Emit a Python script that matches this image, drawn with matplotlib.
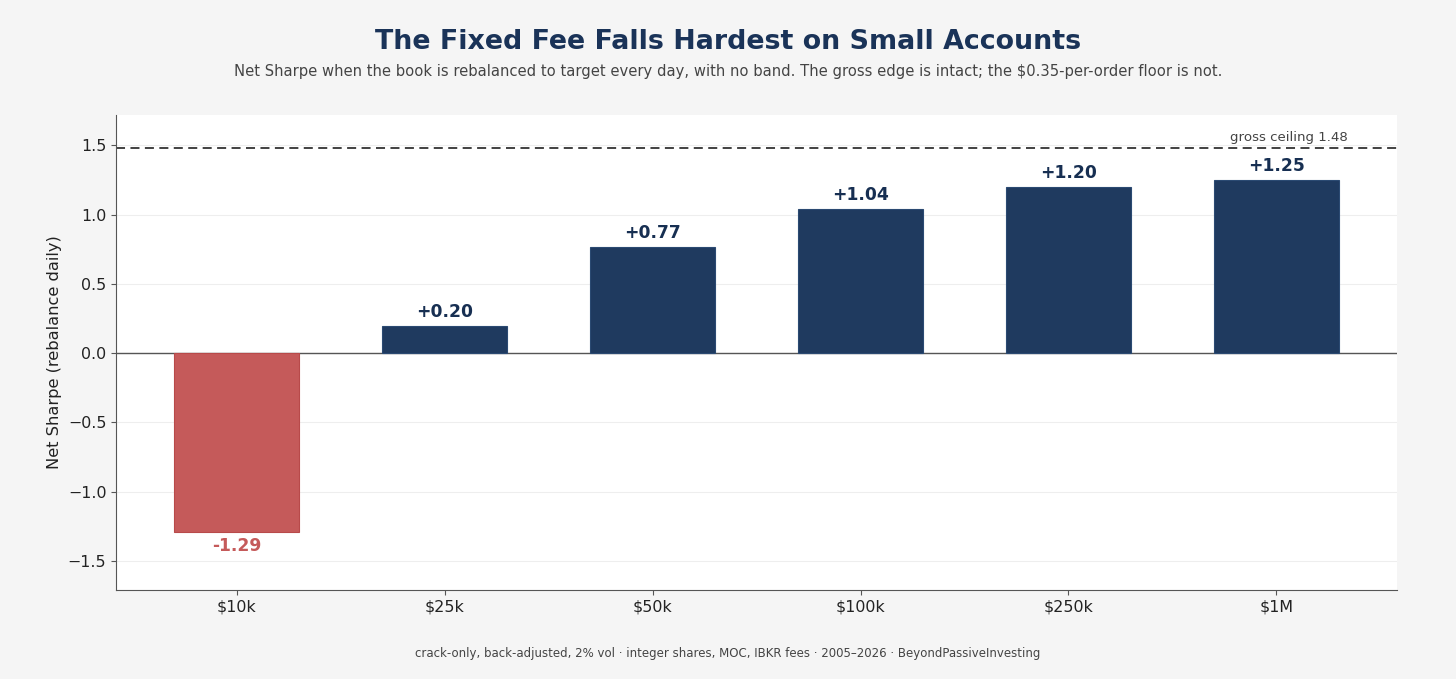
import matplotlib
matplotlib.use("Agg")
import matplotlib.pyplot as plt

plt.rcParams["font.family"] = "DejaVu Sans"
plt.rcParams["font.sans-serif"] = ["DejaVu Sans"]
FAM = "DejaVu Sans"

categories = ["$10k", "$25k", "$50k", "$100k", "$250k", "$1M"]
net_sharpe = [-1.29, 0.20, 0.77, 1.04, 1.20, 1.25]
labels = ["-1.29", "+0.20", "+0.77", "+1.04", "+1.20", "+1.25"]
gross_ceiling = 1.48
yticks = [-1.5, -1.0, -0.5, 0.0, 0.5, 1.0, 1.5]

NAVY = "#1f3a5f"
RED = "#c55a5a"
BG = "#f5f5f5"

fig = plt.figure(figsize=(14.56, 6.79), dpi=100, facecolor=BG)
ax = fig.add_axes([0.0797, 0.131, 0.8798, 0.6996])
ax.set_facecolor("white")

x = list(range(len(categories)))
colors = [RED if v < 0 else NAVY for v in net_sharpe]
edges = ["#b84a4a" if v < 0 else "#2b4a72" for v in net_sharpe]
ax.bar(x, net_sharpe, width=0.6, color=colors, edgecolor=edges, linewidth=0.8, zorder=3)

for xi, v, lab in zip(x, net_sharpe, labels):
    if v >= 0:
        ax.text(xi, v + 0.035, lab, ha="center", va="bottom", fontsize=12.3,
                fontweight="bold", color="#172f52", zorder=4, family=FAM)
    else:
        ax.text(xi, v - 0.035, lab, ha="center", va="top", fontsize=12.3,
                fontweight="bold", color=RED, zorder=4, family=FAM)

ax.axhline(0, color="#555555", linewidth=1.0, zorder=2)
ax.axhline(gross_ceiling, color="#333333", linewidth=1.3, linestyle=(0, (5, 3)), zorder=2)
ax.text(5.345, gross_ceiling + 0.03, f"gross ceiling {gross_ceiling:.2f}", ha="right",
        va="bottom", fontsize=9.6, color="#444444", family=FAM)

ax.set_xlim(-0.58, 5.58)
ax.set_ylim(-1.71, 1.72)
ax.set_yticks(yticks)
ax.set_xticks(x)
ax.set_xticklabels(categories, family=FAM)
for t in ax.get_yticklabels():
    t.set_family(FAM)
ax.tick_params(axis="both", labelsize=11.4, colors="#222222")
ax.tick_params(axis="both", color="#555555")
ax.grid(axis="y", color="#eeeeee", linewidth=0.8, zorder=0)
ax.set_axisbelow(True)
for s in ["top", "right"]:
    ax.spines[s].set_visible(False)
for s in ["left", "bottom"]:
    ax.spines[s].set_color("#555555")
ax.set_ylabel("Net Sharpe (rebalance daily)", fontsize=11.7, color="#222222", family=FAM)

fig.text(0.5, 0.938, "The Fixed Fee Falls Hardest on Small Accounts", ha="center",
         va="center", fontsize=19.4, fontweight="bold", color="#1a3358", family=FAM)
fig.text(0.5, 0.895, "Net Sharpe when the book is rebalanced to target every day, with no band. "
         "The gross edge is intact; the $0.35-per-order floor is not.", ha="center",
         va="center", fontsize=10.65, color="#444444", family=FAM)
fig.text(0.5, 0.037, "crack-only, back-adjusted, 2% vol · integer shares, MOC, IBKR fees · "
         "2005–2026 · BeyondPassiveInvesting", ha="center", va="center", fontsize=8.5,
         color="#444444", family=FAM)

fig.savefig("out.png", dpi=100, facecolor=BG)
